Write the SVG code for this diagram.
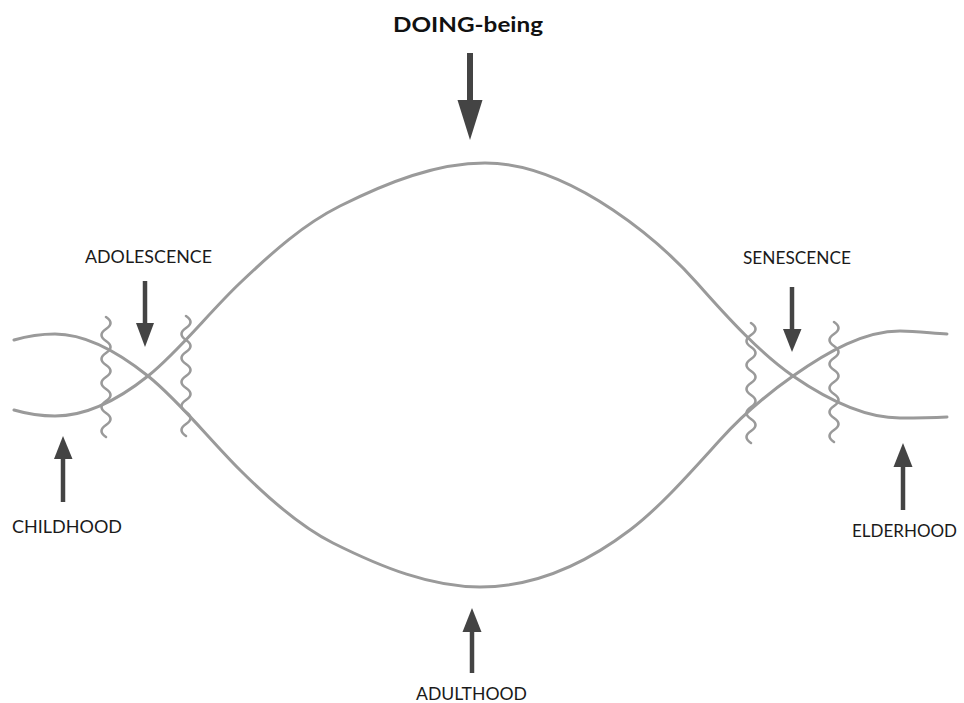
<svg xmlns="http://www.w3.org/2000/svg" width="964" height="703" viewBox="0 0 964 703">
  <style>
    .strand { fill: none; stroke: #9a9a9a; stroke-width: 3; stroke-linecap: round; }
    .wave { fill: none; stroke: #9a9a9a; stroke-width: 2.6; stroke-linecap: round; }
    .shaft { stroke: #444; stroke-width: 4.5; }
    .shaft-lg { stroke: #444; stroke-width: 6; }
    .head { fill: #444; }
    .label { font-family: Lato, "Open Sans", "Liberation Sans", sans-serif; font-size: 17px; fill: #1a1a1a; }
    .title { font-family: Lato, "Open Sans", "Liberation Sans", sans-serif; font-size: 20px; font-weight: bold; fill: #111; }
  </style>

  <!-- two strands of life crossing and opening into the lens -->
  <g id="strands">
    <path id="strand-upper" class="strand" d="M14,410 C27.7,414 41.3,416 55,416 C86,416 117,400.8 148,376 C178.7,351.5 209.3,312.1 240,283 C273.3,251.3 303.3,224.5 340,206 C388.3,182 436.7,163 485,163 C527.7,163 570.3,181.4 613,210 C641,228.8 669,251.4 697,283 C729,319.2 761,353.9 793,376 C828.7,400.6 864.3,418 900,418 C915.7,418 931.3,417.8 947,417"/>
    <path id="strand-lower" class="strand" d="M14,340 C27.7,336 41.3,334 55,334 C86,334 117,351.2 148,376 C178.7,400.5 209.3,439.3 240,470 C271,501 302,527.5 333,543 C382,567.5 431,587 480,587 C530,587 580,568 630,530 C660,507.2 690,473 720,440 C744.3,413.2 768.7,393 793,376 C828.7,351 864.3,331 900,331 C915.7,331 931.3,333.1 947,334"/>
  </g>

  <!-- wavy transition boundaries -->
  <g id="boundaries">
    <path class="wave" d="M106,317 q9,6 0,12 t0,12 t0,12 t0,12 t0,12 t0,12 t0,12 t0,12 t0,12 t0,12"/>
    <path class="wave" d="M186,316 q9,6 0,12 t0,12 t0,12 t0,12 t0,12 t0,12 t0,12 t0,12 t0,12 t0,12"/>
    <path class="wave" d="M751,323 q9,6 0,12 t0,12 t0,12 t0,12 t0,12 t0,12 t0,12 t0,12 t0,12 t0,12"/>
    <path class="wave" d="M834,322 q9,6 0,12 t0,12 t0,12 t0,12 t0,12 t0,12 t0,12 t0,12 t0,12 t0,12"/>
  </g>

  <!-- pointer arrows from each stage label -->
  <g id="connectors">
    <line class="shaft-lg" x1="470" y1="53" x2="470" y2="102"/>
    <path class="head" d="M457.5,100 L482.5,100 L470,140 Z"/>

    <line class="shaft" x1="145" y1="281" x2="145" y2="325"/>
    <path class="head" d="M136,323 L154,323 L145,347 Z"/>

    <line class="shaft" x1="792" y1="287" x2="792" y2="331"/>
    <path class="head" d="M783,329 L801.5,329 L792,352 Z"/>

    <line class="shaft" x1="63" y1="457" x2="63" y2="502"/>
    <path class="head" d="M54,459 L72.5,459 L63,436 Z"/>

    <line class="shaft" x1="903" y1="465" x2="903" y2="510"/>
    <path class="head" d="M893.5,467 L912.5,467 L903,443 Z"/>

    <line class="shaft" x1="472" y1="630" x2="472" y2="673"/>
    <path class="head" d="M462.5,632 L481.5,632 L472,608 Z"/>
  </g>

  <g id="doing-being">
    <text class="title" x="393" y="32" textLength="150" lengthAdjust="spacingAndGlyphs">DOING-being</text>
  </g>
  <g id="adolescence">
    <text class="label" x="85" y="263" textLength="127" lengthAdjust="spacingAndGlyphs">ADOLESCENCE</text>
  </g>
  <g id="senescence">
    <text class="label" x="743" y="264" textLength="108" lengthAdjust="spacingAndGlyphs">SENESCENCE</text>
  </g>
  <g id="childhood">
    <text class="label" x="12" y="533" textLength="110" lengthAdjust="spacingAndGlyphs">CHILDHOOD</text>
  </g>
  <g id="elderhood">
    <text class="label" x="852" y="537" textLength="105" lengthAdjust="spacingAndGlyphs">ELDERHOOD</text>
  </g>
  <g id="adulthood">
    <text class="label" x="416" y="700" textLength="111" lengthAdjust="spacingAndGlyphs">ADULTHOOD</text>
  </g>
</svg>
